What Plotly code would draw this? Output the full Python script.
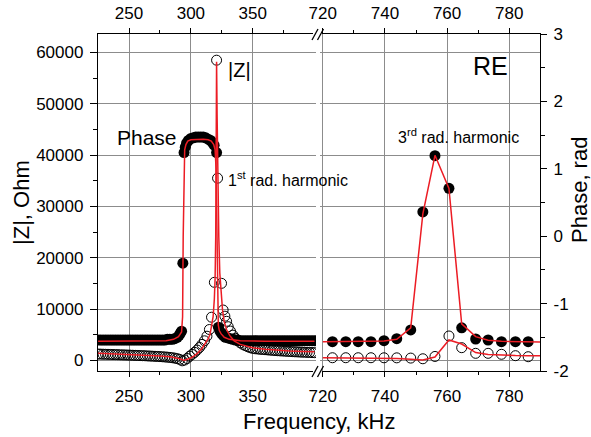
import plotly.graph_objects as go

# ---------------- data ----------------
# Left panel (first radial resonance region), frequency in kHz
F_Z_LEFT = [225, 227, 229, 231, 233, 235, 237, 239, 241, 243,
            245, 247, 249, 251, 253, 255, 257, 259, 261, 263,
            265, 267, 269, 271, 273, 275, 277, 279, 281, 283,
            285, 287, 289, 291, 293, 295, 297, 299, 301, 303,
            305, 307, 309, 311, 313, 315, 316.7, 319.0, 320.8,
            321.6, 324.8, 326.1, 327.5, 328.9, 330.2, 332, 334, 336, 338,
            340, 342, 344, 346, 348, 350, 352, 354, 356, 358,
            360, 362, 364, 366, 368, 370, 372, 374, 376, 378,
            380, 382, 384, 386, 388, 390, 392, 394, 396, 398, 400]
Z_LEFT = [1220, 1200, 1190, 1170, 1160, 1140, 1120, 1110, 1090, 1070,
          1050, 1040, 1020, 1000, 980, 960, 940, 920, 900, 880,
          850, 830, 800, 780, 750, 720, 690, 650, 610, 560,
          500, 420, 320, 180, -100, 50, 350, 800, 1150, 1550,
          2000, 2500, 3100, 3800, 4700, 6000, 8400, 15200, 58500,
          35500, 15000, 9800, 8600, 7600, 6550, 5700, 4900, 4300, 3800,
          3400, 3100, 2850, 2650, 2450, 2330, 2250, 2200, 2150, 2110,
          2070, 2030, 1990, 1950, 1910, 1870, 1840, 1810, 1780, 1750,
          1720, 1690, 1660, 1640, 1610, 1590, 1570, 1550, 1530, 1510, 1490]

F_P_LEFT = [225, 227, 229, 231, 233, 235, 237, 239, 241, 243,
            245, 247, 249, 251, 253, 255, 257, 259, 261, 263,
            265, 267, 269, 271, 273, 275, 277, 279, 281, 283,
            285, 287, 289, 290.5, 291.5, 292.5, 293.5, 294.5, 295.5, 296.5,
            298, 300, 302, 304, 306, 308, 310, 312, 314, 316,
            317.5, 318.8, 320.8, 322.3, 323.5, 325, 326.5, 328, 330, 332,
            334, 336, 338, 340, 342, 344, 346, 348, 350, 352,
            354, 356, 358, 360, 362, 364, 366, 368, 370, 372,
            374, 376, 378, 380, 382, 384, 386, 388, 390, 392,
            394, 396, 398, 400]
P_LEFT = [-1.54, -1.54, -1.54, -1.54, -1.54, -1.54, -1.54, -1.54, -1.54, -1.54,
          -1.54, -1.54, -1.54, -1.54, -1.54, -1.54, -1.54, -1.54, -1.54, -1.54,
          -1.54, -1.54, -1.54, -1.54, -1.54, -1.54, -1.54, -1.54, -1.53, -1.53,
          -1.53, -1.52, -1.50, -1.47, -1.44, -1.41, -0.40, 1.24, 1.32, 1.38,
          1.42, 1.45, 1.46, 1.47, 1.47, 1.47, 1.47, 1.46, 1.44, 1.42,
          1.39, 1.35, 1.24, -1.35, -1.41, -1.45, -1.48, -1.50, -1.51, -1.52,
          -1.53, -1.54, -1.54, -1.55, -1.55, -1.55, -1.55, -1.55, -1.55, -1.55,
          -1.55, -1.55, -1.55, -1.55, -1.55, -1.55, -1.55, -1.55, -1.55, -1.55,
          -1.55, -1.55, -1.55, -1.55, -1.55, -1.55, -1.55, -1.55, -1.55, -1.55,
          -1.55, -1.55, -1.55, -1.55]

# fitted curves (red) in the left panel
F_ZFIT_LEFT = [225, 235, 245, 255, 265, 275, 283, 288, 291, 293,
               294, 295.5, 297, 300, 303, 306, 309, 312, 314, 315.5,
               317, 318, 319, 319.6, 320.1, 320.5, 320.8, 321.2, 321.8, 322.6,
               323.4, 324, 324.8, 325.6, 327, 329, 331.5, 335, 340, 345,
               350, 360, 370, 380, 390, 400]
ZFIT_LEFT = [1380, 1300, 1200, 1100, 980, 840, 680, 500, 300, 120,
             20, 60, 150, 450, 900, 1500, 2300, 3300, 4200, 5000,
             6800, 8500, 12000, 16000, 24000, 38000, 58200, 48000, 35000, 24000,
             17000, 15000, 12000, 9800, 7500, 5900, 4800, 3800, 3100, 2700,
             2450, 2150, 1950, 1800, 1700, 1650]

F_PFIT_LEFT = [225, 250, 270, 280, 286, 290, 292.5, 293.3, 293.8, 294.3,
               295, 296, 297.5, 300, 305, 310, 314, 316.5, 318.5, 319.6,
               320.4, 321, 321.6, 322.2, 323, 324.5, 327, 331, 340, 360, 400]
PFIT_LEFT = [-1.56, -1.56, -1.555, -1.55, -1.53, -1.49, -1.42, -1.2, 0.0, 1.0,
             1.28, 1.36, 1.41, 1.43, 1.44, 1.44, 1.43, 1.41, 1.36, 1.28,
             1.0, 0.0, -1.0, -1.32, -1.40, -1.45, -1.50, -1.53, -1.55, -1.56, -1.56]

# Right panel (third radial harmonic region)
F_RIGHT = [723.1, 727.4, 731.4, 735.5, 739.7, 743.8, 748.3, 752.2,
           756.1, 760.6, 764.7, 769.2, 773.2, 777.5, 782.0, 786.1]
Z_RIGHT = [500, 500, 500, 500, 490, 480, 430, 300,
           750, 4740, 2460, 1360, 1360, 1170, 900, 700]
P_RIGHT = [-1.565, -1.565, -1.565, -1.565, -1.55, -1.52, -1.39, 0.36,
           1.195, 0.71, -1.36, -1.525, -1.54, -1.565, -1.565, -1.565]

F_FIT_RIGHT = [720, 723.1, 727.4, 731.4, 735.5, 739.7, 743.8, 748.3, 752.2,
               756.1, 760.6, 764.7, 769.2, 773.2, 777.5, 782.0, 786.1, 790]
ZFIT_RIGHT = [480, 470, 460, 450, 430, 400, 350, 200, 50,
              650, 3960, 3180, 1500, 1150, 1000, 930, 900, 880]
PFIT_RIGHT = [-1.565, -1.565, -1.565, -1.565, -1.56, -1.555, -1.53, -1.36, 0.33,
              1.20, 0.71, -1.30, -1.49, -1.545, -1.56, -1.565, -1.57, -1.57]

X_TICKS_LEFT = [250, 300, 350]
X_MINOR_LEFT = [275, 325, 375]
X_TICKS_RIGHT = [720, 740, 760, 780]
X_MINOR_RIGHT = [730, 750, 770]
Z_TICKS = [0, 10000, 20000, 30000, 40000, 50000, 60000]
Z_MINOR = [5000, 15000, 25000, 35000, 45000, 55000]
P_TICKS = [-2, -1, 0, 1, 2, 3]
P_MINOR = [-1.5, -0.5, 0.5, 1.5, 2.5]

assert len(F_Z_LEFT) == len(Z_LEFT)
assert len(F_P_LEFT) == len(P_LEFT)
assert len(F_ZFIT_LEFT) == len(ZFIT_LEFT)
assert len(F_PFIT_LEFT) == len(PFIT_LEFT)
assert len(F_FIT_RIGHT) == len(ZFIT_RIGHT) == len(PFIT_RIGHT)

# ---------------- style ----------------
FONT = "Liberation Sans, Arial, sans-serif"
RED = "rgb(236,28,36)"
GRID = "#8c8c8c"
W, H = 591, 437
L, R, T, B = 98, 540, 34, 371


def pxx(x):
    return (x - L) / (R - L)


def pxy(y):
    return (B - y) / (B - T)


open_m = dict(symbol="circle-open", size=10, color="black", line=dict(width=1, color="black"))
fill_m = dict(symbol="circle", size=11, color="black")
red_l = dict(color=RED, width=1.5)

fig = go.Figure()
# markers
fig.add_trace(go.Scatter(x=F_Z_LEFT, y=Z_LEFT, mode="markers", marker=open_m, xaxis="x", yaxis="y"))
fig.add_trace(go.Scatter(x=F_RIGHT, y=Z_RIGHT, mode="markers", marker=open_m, xaxis="x2", yaxis="y"))
fig.add_trace(go.Scatter(x=F_P_LEFT, y=P_LEFT, mode="markers", marker=fill_m, xaxis="x", yaxis="y2"))
fig.add_trace(go.Scatter(x=F_RIGHT, y=P_RIGHT, mode="markers", marker=fill_m, xaxis="x2", yaxis="y2"))
# red fitted lines
fig.add_trace(go.Scatter(x=F_PFIT_LEFT, y=PFIT_LEFT, mode="lines", line=red_l, xaxis="x", yaxis="y2"))
fig.add_trace(go.Scatter(x=F_FIT_RIGHT, y=PFIT_RIGHT, mode="lines", line=red_l, xaxis="x2", yaxis="y2"))
fig.add_trace(go.Scatter(x=F_ZFIT_LEFT, y=ZFIT_LEFT, mode="lines", line=red_l, xaxis="x", yaxis="y3"))
fig.add_trace(go.Scatter(x=F_FIT_RIGHT, y=ZFIT_RIGHT, mode="lines", line=red_l, xaxis="x2", yaxis="y3"))
# empty carriers so the top (mirrored) frequency axes get drawn
fig.add_trace(go.Scatter(x=[None], y=[None], mode="markers", xaxis="x3", yaxis="y", hoverinfo="skip"))
fig.add_trace(go.Scatter(x=[None], y=[None], mode="markers", xaxis="x4", yaxis="y", hoverinfo="skip"))

tickfont = dict(family=FONT, size=17, color="black")
base = dict(showline=True, linecolor="black", linewidth=1.3, ticks="outside", automargin=False,
            tickcolor="black", tickwidth=1.2, zeroline=False, tickfont=tickfont)

XL_RANGE = [224.9, 401.2]
XR_RANGE = [719.1, 789.9]
Y_RANGE = [-2086, 63606]
DOM_L = [0, pxx(316)]
DOM_R = [pxx(320), 1]

minor_x = dict(ticklen=3, tickcolor="black", ticks="outside", showgrid=False)

fig.update_layout(
    width=W, height=H,
    margin=dict(l=L, r=W - R, t=T, b=H - B, pad=0, autoexpand=False),
    paper_bgcolor="white", plot_bgcolor="white",
    showlegend=False,
    font=dict(family=FONT, color="black"),
    xaxis=dict(**base, domain=DOM_L, range=XL_RANGE, anchor="y", tickvals=X_TICKS_LEFT,
               ticklen=5, minor=dict(**minor_x, tickvals=X_MINOR_LEFT),
               showgrid=True, gridcolor=GRID, gridwidth=1, ticklabelstandoff=4),
    xaxis2=dict(**base, domain=DOM_R, range=XR_RANGE, anchor="y", tickvals=X_TICKS_RIGHT,
                ticklen=5, minor=dict(**minor_x, tickvals=X_MINOR_RIGHT),
                showgrid=True, gridcolor=GRID, gridwidth=1, ticklabelstandoff=4),
    xaxis3=dict(**base, overlaying="x", side="top", anchor="y", range=XL_RANGE,
                tickvals=X_TICKS_LEFT, ticklen=5, minor=dict(**minor_x, tickvals=X_MINOR_LEFT),
                showgrid=False, ticklabelstandoff=2),
    xaxis4=dict(**base, overlaying="x2", side="top", anchor="y", range=XR_RANGE,
                tickvals=X_TICKS_RIGHT, ticklen=5, minor=dict(**minor_x, tickvals=X_MINOR_RIGHT),
                showgrid=False, ticklabelstandoff=2),
    yaxis=dict(**base, domain=[0, 1], range=Y_RANGE, anchor="x", side="left",
               tickvals=Z_TICKS, ticktext=[str(v) for v in Z_TICKS], ticklen=7,
               minor=dict(tickvals=Z_MINOR, ticklen=4, tickcolor="black", ticks="outside", showgrid=False),
               showgrid=True, gridcolor=GRID, gridwidth=1, ticklabelstandoff=3),
    yaxis2=dict(**base, overlaying="y", side="right", anchor="x2", range=[-2, 3],
                tickvals=P_TICKS, ticktext=[str(v) for v in P_TICKS], ticklen=6,
                minor=dict(tickvals=P_MINOR, ticklen=4, tickcolor="black", ticks="outside", showgrid=False),
                showgrid=False, ticklabelstandoff=3),
    yaxis3=dict(overlaying="y", anchor="x", range=Y_RANGE, visible=False),
)

# axis-break marks
brk = dict(type="line", xref="paper", yref="paper", line=dict(color="black", width=1.3))
shapes = [
    dict(type="rect", xref="paper", yref="paper", x0=pxx(313), x1=pxx(322), y0=pxy(374), y1=pxy(368),
         fillcolor="white", line=dict(width=0)),
    dict(type="rect", xref="paper", yref="paper", x0=pxx(313), x1=pxx(322), y0=pxy(37), y1=pxy(31),
         fillcolor="white", line=dict(width=0)),
]
for (xa, xb) in [(312, 318), (317.5, 323.5)]:
    shapes.append(dict(brk, x0=pxx(xa), y0=pxy(377), x1=pxx(xb), y1=pxy(366)))
    shapes.append(dict(brk, x0=pxx(xa), y0=pxy(40), x1=pxx(xb), y1=pxy(29)))
fig.update_layout(shapes=shapes)


def ann(text, x, y, size, xanchor="left", yanchor="middle", angle=0):
    return dict(text=text, x=pxx(x), y=pxy(y), xref="paper", yref="paper", showarrow=False,
                xanchor=xanchor, yanchor=yanchor, textangle=angle,
                font=dict(family=FONT, size=size, color="black"))


fig.update_layout(annotations=[
    ann("|Z|", 226, 70, 20),
    ann("Phase", 179, 137, 21, xanchor="right"),
    ann("1<sup>st</sup> rad. harmonic", 226, 179, 16),
    ann("3<sup>rd</sup> rad. harmonic", 396, 136, 16),
    ann("RE", 471, 66, 25),
    ann("|Z|, Ohm", 21, 203, 22, xanchor="center", angle=-90),
    ann("Phase, rad", 579, 190, 22, xanchor="center", angle=-90),
    ann("Frequency, kHz", 319, 421, 22, xanchor="center"),
])

fig.write_html("out.html",
               config={"displayModeBar": False},
               post_script="document.body.style.margin='0';document.body.style.padding='0';")
